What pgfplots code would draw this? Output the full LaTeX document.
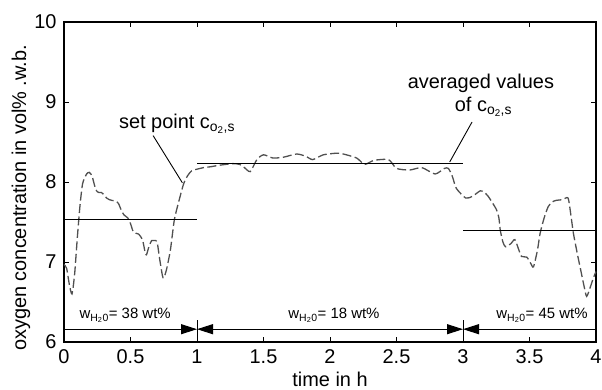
\documentclass[border=0pt]{standalone}
\usepackage{fontspec}
\setmainfont{Liberation Sans}
\usepackage{pgfplots}
\pgfplotsset{compat=1.18}
\usetikzlibrary{arrows.meta}
\definecolor{curvegray}{RGB}{80,80,80}
\begin{document}
\begin{tikzpicture}
\begin{axis}[
  scale only axis, width=532bp, height=320bp,
  xmin=0, xmax=4, ymin=6, ymax=10,
  xtick={0,0.5,1,1.5,2,2.5,3,3.5,4},
  xticklabels={0,0.5,1,1.5,2,2.5,3,3.5,4},
  ytick={6,7,8,9,10},
  tick align=inside, major tick length=5bp,
  tick style={black, line width=0.9pt},
  axis line style={line width=1.1pt},
  /pgf/number format/assume math mode=true,
  tick label style={font=\fontsize{20}{24}\selectfont},
  xticklabel style={yshift=-4bp},
  yticklabel style={xshift=-4bp},
  label style={font=\fontsize{20}{24}\selectfont},
  xlabel={time in h},
  ylabel={oxygen concentration in vol\% .w.b.},
  xlabel style={at={(axis description cs:0.5,-0.138)}, anchor=base, inner sep=0pt},
  ylabel style={at={(axis description cs:-0.081,0.45)}, anchor=center, inner sep=0pt},
  clip=false,
]
% measured signal
\addplot[curvegray, line width=1.3pt, dash pattern=on 9bp off 3.5bp, smooth, tension=0.4] coordinates {
(0.00,6.97) (0.02,6.92) (0.04,6.72) (0.06,6.60) (0.08,6.85) (0.10,7.30) (0.12,7.70)
(0.14,7.98) (0.17,8.10) (0.19,8.12) (0.21,8.08) (0.22,8.02) (0.24,7.90) (0.26,7.87)
(0.28,7.87) (0.30,7.84) (0.32,7.80) (0.34,7.78) (0.36,7.77) (0.39,7.76) (0.41,7.73)
(0.43,7.65) (0.45,7.59) (0.48,7.55) (0.50,7.48) (0.52,7.38) (0.54,7.36) (0.56,7.35)
(0.59,7.28) (0.61,7.12) (0.62,7.09) (0.64,7.20) (0.66,7.27) (0.68,7.27) (0.70,7.25)
(0.72,7.03) (0.74,6.83) (0.75,6.80) (0.77,6.90) (0.80,7.15) (0.83,7.53) (0.87,7.80)
(0.90,7.98) (0.93,8.08) (0.96,8.14) (1.00,8.16) (1.05,8.18) (1.10,8.19) (1.17,8.21)
(1.27,8.23) (1.32,8.22) (1.35,8.19) (1.40,8.13) (1.45,8.28) (1.50,8.34) (1.57,8.30)
(1.65,8.31) (1.75,8.35) (1.82,8.32) (1.87,8.28) (1.95,8.34) (2.05,8.36) (2.10,8.35)
(2.20,8.30) (2.26,8.22) (2.33,8.27) (2.44,8.28) (2.50,8.17) (2.60,8.15) (2.69,8.18)
(2.79,8.10) (2.86,8.17) (2.89,8.17) (2.92,8.07) (2.95,7.92) (3.02,7.80) (3.07,7.82)
(3.13,7.89) (3.16,7.87) (3.19,7.82) (3.25,7.66) (3.27,7.55) (3.28,7.40) (3.30,7.25)
(3.32,7.19) (3.36,7.23) (3.39,7.28) (3.42,7.15) (3.44,7.07) (3.48,7.06) (3.51,6.98)
(3.53,6.94) (3.56,7.15) (3.58,7.36) (3.61,7.55) (3.64,7.69) (3.67,7.75) (3.70,7.77)
(3.75,7.78) (3.79,7.80) (3.81,7.60) (3.83,7.36) (3.86,7.10) (3.88,6.94) (3.91,6.70)
(3.93,6.57) (3.96,6.70) (3.98,6.80) (4.00,6.88)
};
% averaged values
\addplot[black, line width=1.3pt] coordinates {(0,7.53) (1,7.53)};
\addplot[black, line width=1.3pt] coordinates {(1,8.23) (3,8.23)};
\addplot[black, line width=1.3pt] coordinates {(3,7.39) (4,7.39)};
% phase markers
\addplot[black, line width=1pt] coordinates {(1,6) (1,6.27)};
\addplot[black, line width=1pt] coordinates {(3,6) (3,6.27)};
\draw[line width=1pt, -{Triangle[length=16bp,width=10bp]}] (axis cs:0,6.16) -- (axis cs:1,6.16);
\draw[line width=1pt, {Triangle[length=16bp,width=10bp]}-{Triangle[length=16bp,width=10bp]}] (axis cs:1,6.16) -- (axis cs:3,6.16);
\draw[line width=1pt, {Triangle[length=16bp,width=10bp]}-] (axis cs:3,6.16) -- (axis cs:4,6.16);
\node[anchor=base, font=\fontsize{15}{18}\selectfont, inner sep=0pt] at (axis cs:0.46,6.29) {w\textsubscript{H\textsubscript{2}0}= 38 wt\%};
\node[anchor=base, font=\fontsize{15}{18}\selectfont, inner sep=0pt] at (axis cs:2.03,6.29) {w\textsubscript{H\textsubscript{2}0}= 18 wt\%};
\node[anchor=base, font=\fontsize{15}{18}\selectfont, inner sep=0pt] at (axis cs:3.594,6.29) {w\textsubscript{H\textsubscript{2}0}= 45 wt\%};
% annotations
\node[anchor=base, font=\fontsize{20}{24}\selectfont, inner sep=0pt] at (axis cs:0.85,8.67) {set point c\textsubscript{o\textsubscript{2},s}};
\draw[black, line width=0.9pt] (axis cs:0.67,8.58) -- (axis cs:0.89,7.99);
\node[anchor=base, font=\fontsize{20}{24}\selectfont, inner sep=0pt] at (axis cs:3.135,9.17) {averaged values};
\node[anchor=base, font=\fontsize{20}{24}\selectfont, inner sep=0pt] at (axis cs:3.154,8.88) {of c\textsubscript{o\textsubscript{2},s}};
\draw[black, line width=0.9pt] (axis cs:3.068,8.75) -- (axis cs:2.90,8.25);
\end{axis}
\pgfresetboundingbox
\path ([shift={(-64bp,-48bp)}]current axis.south west) rectangle ++(602bp,390bp);
\end{tikzpicture}
\end{document}
